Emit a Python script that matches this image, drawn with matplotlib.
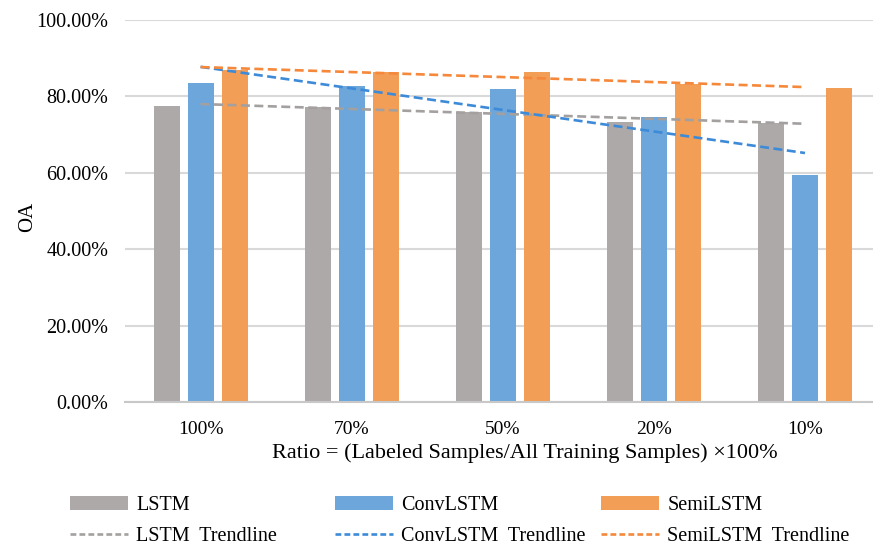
import numpy as np
import matplotlib
matplotlib.use("Agg")
import matplotlib.pyplot as plt
from matplotlib.patches import Patch
from matplotlib.lines import Line2D

plt.rcParams['font.family'] = ['Liberation Serif', 'DejaVu Serif']

# OA for each labelled-sample ratio
ratios = ['100%', '70%', '50%', '20%', '10%']
lstm = [0.776, 0.771, 0.760, 0.734, 0.730]
conv_lstm = [0.836, 0.827, 0.819, 0.747, 0.594]
semi_lstm = [0.870, 0.865, 0.865, 0.832, 0.821]

series = [('LSTM', lstm, '#ADA9A8', '#A3A09F'),
          ('ConvLSTM', conv_lstm, '#6CA6DA', '#3D8BD8'),
          ('SemiLSTM', semi_lstm, '#F29E56', '#F5883A')]

fig = plt.figure(figsize=(8.73, 5.47), dpi=100)
ax = fig.add_axes([125/873, 145/547, 748/873, 382/547])

x = np.arange(len(ratios))
step = 0.225
width = 0.172

for i, (name, vals, c, tc) in enumerate(series):
    ax.bar(x + (i - 1) * step, vals, width, color=c, zorder=2)

# linear trendlines across the groups
for name, vals, c, tc in series:
    k, b = np.polyfit(x + 1, vals, 1)
    ax.plot(x, k * (x + 1) + b, color=tc, lw=1.9, dashes=(3.4, 1.7), zorder=3)

ax.set_xlim(-0.5, 4.45)
ax.set_ylim(0, 1.0)
ax.set_yticks(np.arange(0, 1.01, 0.2))
ax.set_yticklabels(['{:.2%}'.format(v) for v in np.arange(0, 1.01, 0.2)], fontsize=14.5)
ax.set_xticks(x)
ax.set_xticklabels(ratios, fontsize=14)
ax.tick_params(length=0)
ax.tick_params(axis='y', pad=12)
ax.tick_params(axis='x', pad=14)
ax.grid(axis='y', color='#D9D9D9', lw=1.5, zorder=0)
for s in ['left', 'right', 'top']:
    ax.spines[s].set_visible(False)
ax.spines['bottom'].set_color('#C8C8C8')
ax.spines['bottom'].set_linewidth(1.5)

ax.set_xlabel('Ratio = (Labeled Samples/All Training Samples) \u00d7100%', fontsize=16)
ax.xaxis.set_label_coords(0.535, -0.107)
ax.set_ylabel('OA', fontsize=15)
ax.yaxis.set_label_coords(-0.117, 0.485)

# one small legend block per model: bar patch over its trendline
lx = [70, 335, 601]
for (name, vals, c, tc), px in zip(series, lx):
    handles = [Patch(facecolor=c, edgecolor='none'),
               Line2D([], [], color=tc, lw=1.9, dashes=(2.2, 1.2))]
    labels = [name, name + '  Trendline']
    fig.legend(handles, labels, loc='upper left',
               bbox_to_anchor=(px/873, 1 - 496/547), frameon=False,
               fontsize=14.5, handlelength=2.9, handleheight=0.65,
               handletextpad=0.4, labelspacing=0.6, borderaxespad=0,
               borderpad=0)

fig.savefig('out.png', dpi=100)
